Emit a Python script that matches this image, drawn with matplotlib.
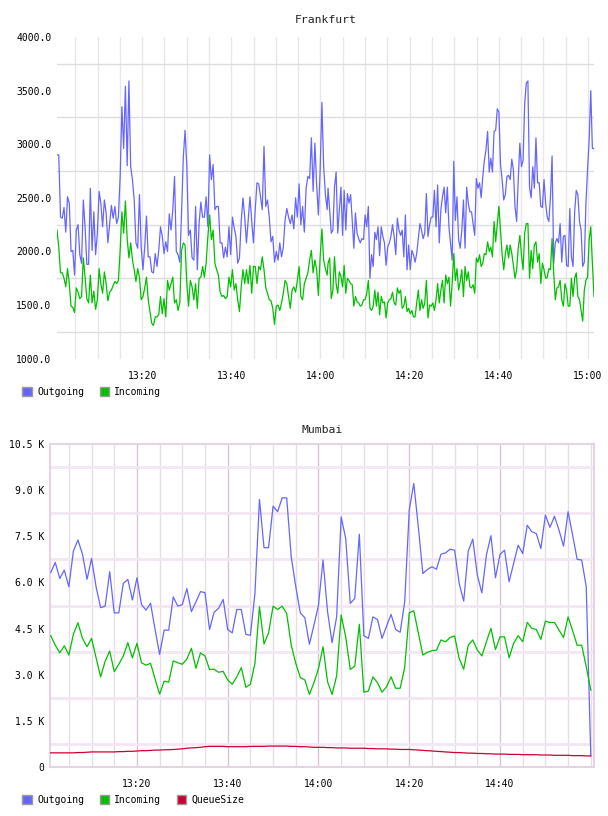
import numpy as np
import matplotlib
matplotlib.use("Agg")
import matplotlib.pyplot as plt
from matplotlib.patches import Patch

# ---- Frankfurt (first hour / second hour samples) ----
fra_out_a = [2900, 2900, 2320, 2310, 2410, 2180, 2510, 2450, 2000, 2010,
             1780, 2200, 2250, 1970, 1890, 2480, 2230, 1880, 1880, 2590,
             2010, 2370, 1970, 2170, 2560, 2450, 2230, 2480, 2360, 2080,
             2260, 2430, 2310, 2420, 2260, 2320, 2700, 3350, 2960, 3540,
             2800, 3590, 2790, 2670, 2480, 2080, 2030, 2530, 2040, 1830,
             2040, 2330, 1950, 1950, 1810, 1800, 1980, 1860, 2010, 2230,
             2140, 1980, 2090, 2000, 2350, 2200, 2390, 2700, 2000, 1970,
             1900, 2360, 2880, 3130, 2790, 2150, 2200, 1940, 1920, 2420,
             1830, 2260, 2460, 2320, 2320, 2510, 2230, 2900, 2670, 2810,
             2390, 2420, 2420, 2080, 2080, 1940, 2040, 1950, 2230, 1970,
             2320, 2220, 2140, 1890, 1940, 2280, 2500, 2320, 2080, 2290,
             2510, 2280, 2080, 2390, 2640, 2630, 2510, 2390, 2980, 2420,
             2480, 2320, 2090, 2140, 1900, 2000, 1920, 2080, 1950, 2040,
             2290, 2400, 2320, 2260, 2340, 2210, 2500, 2320, 2630, 2250,
             2420, 2180, 2590, 2700, 2680, 3060, 2560, 3010, 2620, 2340,
             2760, 3390, 2790, 2530, 2390]
fra_in_a = [2200, 2040, 1800, 1800, 1750, 1670, 1840, 1700, 1490, 1480,
            1430, 1660, 1620, 1560, 1580, 1940, 1760, 1560, 1520, 1780,
            1520, 1630, 1460, 1550, 1840, 1700, 1610, 1810, 1700, 1540,
            1620, 1640, 1680, 1720, 1700, 1730, 2010, 2370, 2170, 2470,
            2120, 1940, 2080, 1920, 1830, 1720, 1840, 1760, 1550, 1580,
            1660, 1760, 1550, 1440, 1330, 1310, 1390, 1390, 1410, 1580,
            1420, 1560, 1390, 1730, 1640, 1700, 1760, 1520, 1550, 1450,
            1520, 2010, 2080, 2060, 1700, 1490, 1730, 1670, 1550, 1700,
            1470, 1750, 1760, 1860, 1760, 1890, 2140, 2340, 2110, 2200,
            1890, 1830, 1780, 1620, 1580, 1590, 1560, 1580, 1760, 1670,
            1830, 1640, 1700, 1550, 1440, 1670, 1830, 1700, 1830, 1700,
            1870, 1610, 1860, 1860, 1700, 1860, 1830, 1950, 1830, 1660,
            1610, 1550, 1540, 1470, 1320, 1490, 1500, 1450, 1520, 1610,
            1730, 1700, 1580, 1470, 1640, 1670, 1620, 1730, 1860, 1580,
            1550, 1700, 1750, 1800, 1920, 2010, 1800, 1920, 1830, 1590,
            1950, 2210, 1920, 1840, 1780]
fra_out_b = [2590, 2390, 2170, 2200, 2600, 2740, 2170, 2390, 2600, 2150,
             2570, 2200, 2540, 2450, 2530, 2290, 2030, 2360, 2170, 2120,
             2080, 2120, 2110, 2340, 2230, 2420, 1750, 1970, 1860, 2180,
             2110, 2230, 1960, 2230, 2140, 2080, 1870, 2040, 2080, 2140,
             2250, 2140, 1970, 2310, 2200, 2150, 2200, 1950, 2340, 1830,
             2060, 1830, 2010, 1970, 1900, 1980, 2120, 2260, 2200, 2120,
             2170, 2540, 2140, 2250, 2320, 2320, 2570, 2230, 2620, 2080,
             2390, 2510, 2600, 2360, 2600, 2230, 2080, 1920, 2840, 2290,
             2510, 2110, 2030, 2200, 2480, 2030, 2600, 2450, 2370, 2370,
             2260, 2150, 2680, 2590, 2640, 2500, 2700, 2850, 2950, 3120,
             2740, 2870, 2740, 3120, 3130, 3330, 3300, 2810, 2670, 2480,
             2530, 2700, 2710, 2670, 2860, 2760, 2420, 2280, 2670, 3010,
             2790, 2850, 3380, 3570, 3590, 2600, 2500, 2790, 2590, 3060,
             2640, 2640, 2420, 2410, 2670, 2450, 2320, 2280, 2510, 2890,
             1890, 2080, 2120, 2080, 2260, 1900, 2140, 2150, 1870, 1860,
             2400, 1950, 1860, 2370, 2570, 2530, 2280, 2200, 1860, 1900,
             2450, 2760, 3040, 3500, 2960, 2960]
fra_in_b = [1890, 1940, 1560, 1640, 1950, 1700, 1610, 1810, 1770, 1670,
            1870, 1610, 1750, 1730, 1700, 1690, 1490, 1580, 1530, 1520,
            1490, 1500, 1550, 1550, 1610, 1730, 1470, 1450, 1490, 1640,
            1490, 1620, 1410, 1580, 1520, 1530, 1380, 1520, 1550, 1560,
            1620, 1520, 1500, 1660, 1610, 1640, 1470, 1490, 1580, 1440,
            1470, 1420, 1450, 1390, 1390, 1520, 1640, 1450, 1550, 1470,
            1520, 1730, 1380, 1500, 1490, 1520, 1450, 1550, 1700, 1520,
            1640, 1730, 1520, 1780, 1700, 1760, 1490, 1700, 1980, 1730,
            1840, 1640, 1720, 1830, 1580, 1860, 1730, 1810, 1670, 1660,
            1690, 1610, 1940, 1900, 1970, 1860, 1890, 1980, 1970, 2090,
            2000, 2040, 1950, 2280, 2090, 2260, 2420, 2200, 1970, 1830,
            1980, 2060, 1940, 2060, 1980, 1870, 1750, 1830, 2030, 2150,
            1970, 1830, 2170, 2260, 2260, 1750, 2010, 1840, 2060, 2090,
            1900, 1980, 1700, 1890, 1830, 1750, 1760, 1840, 1830, 2120,
            1800, 1550, 1660, 1670, 1730, 1550, 1490, 1700, 1640, 1490,
            1490, 1750, 1580, 1750, 1800, 1580, 1550, 1450, 1350, 1640,
            1730, 1760, 2110, 2230, 1890, 1580]

# ---- Mumbai (one sample per minute, 13:01 .. 15:00) ----
mum_out = [6.32, 6.65, 6.13, 6.40, 5.86, 7.02, 7.38, 6.92, 6.10, 6.78,
           5.86, 5.18, 5.23, 6.35, 5.01, 5.01, 5.97, 6.10, 5.43, 6.15,
           5.28, 5.10, 5.32, 4.47, 3.66, 4.45, 4.45, 5.53, 5.23, 5.28,
           5.80, 5.05, 5.37, 5.70, 5.67, 4.47, 5.03, 5.16, 5.45, 4.47,
           4.36, 5.12, 5.12, 4.31, 4.28, 5.64, 8.70, 7.13, 7.13, 8.48,
           8.30, 8.75, 8.75, 6.83, 5.86, 5.01, 4.85, 3.99, 4.61, 5.26,
           6.73, 5.05, 4.04, 4.88, 8.13, 7.43, 5.32, 5.48, 7.57, 4.27,
           4.18, 4.88, 4.80, 4.18, 4.58, 4.96, 4.47, 4.38, 5.37, 8.35,
           9.22, 7.81, 6.29, 6.42, 6.51, 6.43, 6.92, 6.96, 7.08, 7.05,
           5.97, 5.39, 7.02, 7.41, 6.24, 5.66, 6.89, 7.52, 6.15, 6.91,
           7.05, 6.02, 6.62, 7.21, 6.94, 7.86, 7.65, 7.59, 7.10, 8.19,
           7.79, 8.15, 7.70, 7.18, 8.30, 7.54, 6.75, 6.73, 5.86, 0.37]
mum_in = [4.27, 3.96, 3.71, 3.94, 3.64, 4.32, 4.69, 4.18, 3.91, 4.18,
          3.55, 2.93, 3.44, 3.77, 3.10, 3.34, 3.61, 4.04, 3.55, 4.02,
          3.39, 3.31, 3.37, 2.86, 2.37, 2.79, 2.76, 3.45, 3.39, 3.34,
          3.51, 3.86, 3.21, 3.71, 3.61, 3.17, 3.18, 3.08, 3.11, 2.83,
          2.69, 2.93, 3.23, 2.59, 2.69, 3.37, 5.21, 4.00, 4.36, 5.23,
          5.12, 5.23, 4.99, 3.96, 3.37, 2.91, 2.83, 2.36, 2.74, 3.20,
          3.91, 2.77, 2.36, 2.96, 4.94, 4.23, 3.17, 3.28, 4.64, 2.43,
          2.47, 2.93, 2.74, 2.43, 2.61, 2.93, 2.56, 2.56, 3.24, 5.01,
          5.08, 4.36, 3.64, 3.73, 3.78, 3.80, 4.13, 4.07, 4.21, 4.26,
          3.53, 3.18, 3.96, 4.13, 3.80, 3.61, 4.07, 4.51, 3.82, 4.23,
          4.23, 3.55, 4.02, 4.27, 4.07, 4.70, 4.51, 4.47, 4.15, 4.74,
          4.70, 4.70, 4.45, 4.21, 4.88, 4.43, 3.96, 3.96, 3.26, 2.50]
mum_queue = [0.46, 0.46, 0.46, 0.46, 0.46, 0.46, 0.47, 0.47, 0.48, 0.49,
             0.49, 0.49, 0.49, 0.49, 0.49, 0.50, 0.50, 0.51, 0.51, 0.52,
             0.53, 0.53, 0.54, 0.55, 0.55, 0.56, 0.56, 0.57, 0.58, 0.59,
             0.61, 0.62, 0.63, 0.64, 0.66, 0.67, 0.67, 0.67, 0.67, 0.66,
             0.66, 0.66, 0.66, 0.66, 0.67, 0.67, 0.67, 0.67, 0.68, 0.68,
             0.68, 0.68, 0.68, 0.67, 0.67, 0.66, 0.66, 0.65, 0.64, 0.64,
             0.64, 0.63, 0.63, 0.62, 0.62, 0.62, 0.61, 0.61, 0.61, 0.61,
             0.60, 0.60, 0.59, 0.59, 0.59, 0.58, 0.58, 0.57, 0.57, 0.57,
             0.56, 0.55, 0.54, 0.53, 0.52, 0.51, 0.50, 0.49, 0.48, 0.47,
             0.47, 0.46, 0.45, 0.45, 0.44, 0.44, 0.43, 0.43, 0.42, 0.42,
             0.42, 0.41, 0.41, 0.41, 0.40, 0.40, 0.40, 0.40, 0.39, 0.39,
             0.39, 0.38, 0.38, 0.38, 0.38, 0.37, 0.37, 0.37, 0.36, 0.36]

time_labels = ["13:20", "13:40", "14:00", "14:20", "14:40", "15:00"]
label_minutes = [20, 40, 60, 80, 100, 120]   # minutes after 13:00

C_OUT = "#6666ff"
C_IN = "#00c000"
C_Q = "#cc0033"
FONT = "DejaVu Sans Mono"
plt.rcParams["font.family"] = FONT

fig = plt.figure(figsize=(6.08, 8.16), dpi=100)

# ----- Frankfurt -----
ax1 = fig.add_axes([0.09375, 0.5604, 0.8832, 0.3943])
t_a = np.linspace(0.9, 61.5, len(fra_out_a))
t_b = np.linspace(61.7, 121.35, len(fra_out_b))
t_fra = np.concatenate([t_a, t_b])
ax1.plot(t_fra, fra_out_a + fra_out_b, color=C_OUT, lw=0.9, zorder=3)
ax1.plot(t_fra, fra_in_a + fra_in_b, color=C_IN, lw=0.9, zorder=3)
ax1.set_xlim(0.9, 121.35)
ax1.set_ylim(1000, 4000)
ax1.set_yticks(np.arange(1000, 4001, 500))
ax1.set_yticklabels([f"{v:.1f}" for v in np.arange(1000, 4001, 500)])
ax1.set_yticks(np.arange(1250, 4000, 500), minor=True)
ax1.set_xticks(label_minutes)
ax1.set_xticklabels(time_labels)
ax1.set_xticks(np.arange(5, 122, 5), minor=True)
ax1.grid(True, axis="y", which="minor", color="#dddddd", lw=1)
ax1.grid(True, axis="x", which="both", color="#e8e8e8", lw=1)
ax1.set_axisbelow(True)
for s in ax1.spines.values():
    s.set_visible(False)
ax1.tick_params(which="both", length=0, labelsize=7, pad=4)
ax1.tick_params(axis="x", pad=9)
ax1.set_title("Frankfurt", fontsize=8.2, pad=10, color="#222222")
ax1.legend(handles=[Patch(facecolor=C_OUT, edgecolor="#999999", label="Outgoing"),
                    Patch(facecolor=C_IN, edgecolor="#999999", label="Incoming")],
           loc="center left", bbox_to_anchor=(0.037, 0.5196), bbox_transform=fig.transFigure,
           ncol=2, frameon=False, fontsize=7, handlelength=1.0, handleheight=1.0,
           handletextpad=0.5, columnspacing=1.6, borderpad=0, borderaxespad=0)

# ----- Mumbai -----
ax2 = fig.add_axes([0.0822, 0.06005, 0.8947, 0.3958])
t_mum = np.arange(1, len(mum_out) + 1)
ax2.plot(t_mum, np.array(mum_out) * 1000, color=C_OUT, lw=0.9, zorder=3)
ax2.plot(t_mum, np.array(mum_in) * 1000, color=C_IN, lw=0.9, zorder=3)
ax2.plot(t_mum, np.array(mum_queue) * 1000, color=C_Q, lw=0.9, zorder=3)
ax2.set_xlim(0.84, 120.7)
ax2.set_ylim(0, 10500)
yt = np.arange(0, 10501, 1500)
ax2.set_yticks(yt)
ax2.set_yticklabels(["0"] + [f"{v / 1000:.1f} K" for v in yt[1:]])
ax2.set_yticks(np.arange(0, 10501, 750), minor=True)
ax2.set_xticks(label_minutes[:5])
ax2.set_xticklabels(time_labels[:5])
ax2.set_xticks(np.arange(5, 121, 5), minor=True)
ax2.grid(True, axis="y", which="minor", color="#f2e6f2", lw=2)
ax2.grid(True, axis="x", which="minor", color="#e6dde6", lw=1)
ax2.grid(True, axis="x", which="major", color="#d9c4d9", lw=1)
ax2.set_axisbelow(True)
for s in ax2.spines.values():
    s.set_color("#e4d4e4")
    s.set_linewidth(1.5)
ax2.tick_params(which="both", length=0, labelsize=7, pad=4)
ax2.tick_params(axis="x", pad=9)
ax2.set_title("Mumbai", fontsize=8.2, pad=8, color="#222222")
ax2.legend(handles=[Patch(facecolor=C_OUT, edgecolor="#999999", label="Outgoing"),
                    Patch(facecolor=C_IN, edgecolor="#999999", label="Incoming"),
                    Patch(facecolor=C_Q, edgecolor="#999999", label="QueueSize")],
           loc="center left", bbox_to_anchor=(0.037, 0.0196), bbox_transform=fig.transFigure,
           ncol=3, frameon=False, fontsize=7, handlelength=1.0, handleheight=1.0,
           handletextpad=0.5, columnspacing=1.6, borderpad=0, borderaxespad=0)

fig.savefig("out.png", dpi=100)
